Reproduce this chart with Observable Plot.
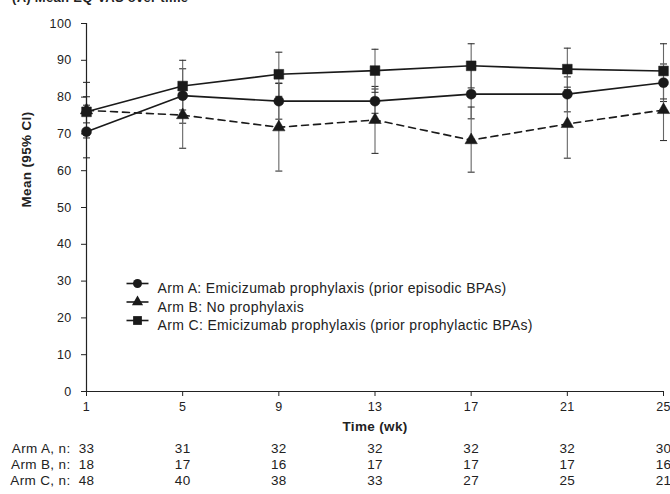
<!DOCTYPE html>
<html>
<head>
<meta charset="utf-8">
<script src="https://cdn.jsdelivr.net/npm/d3@7"></script>
<script src="https://cdn.jsdelivr.net/npm/@observablehq/plot@0.6"></script>
<style>
  html, body { margin: 0; padding: 0; background: #fff; overflow: hidden; }
  #wrap { position: relative; width: 670px; height: 494px; }
  #title { position: absolute; left: 12px; top: -10px; font: bold 13px "Liberation Sans", Arial, sans-serif; letter-spacing: 0.3px; color: #222; white-space: nowrap; z-index: 2; }
  #chart { position: absolute; left: 0; top: 0; }
  #chart svg text { letter-spacing: 0.35px; }
</style>
</head>
<body>
<div id="wrap">
  <div id="title">(A) Mean EQ-VAS over time</div>
  <div id="chart"></div>
</div>
<script>
const weeks = [1, 5, 9, 13, 17, 21, 25];
const yTicks = [0, 10, 20, 30, 40, 50, 60, 70, 80, 90, 100];

const armA = [70.6, 80.4, 78.9, 78.9, 80.8, 80.8, 83.9];
const armALo = [63.5, 72.9, 74.0, 75.6, 74.1, 76.0, 78.8];
const armAHi = [77.8, 87.7, 83.8, 82.2, 87.5, 85.5, 89.0];

const armB = [76.4, 75.1, 71.8, 73.8, 68.3, 72.7, 76.5];
const armBLo = [68.9, 66.1, 59.9, 64.7, 59.6, 63.4, 68.2];
const armBHi = [84.0, 83.5, 83.7, 82.9, 77.3, 82.0, 84.8];

const armC = [76.0, 83.0, 86.2, 87.2, 88.5, 87.6, 87.1];
const armCLo = [73.0, 76.5, 80.2, 81.3, 82.5, 82.7, 79.5];
const armCHi = [80.1, 90.0, 92.2, 93.0, 94.5, 93.3, 94.5];

const nA = [33, 31, 32, 32, 32, 32, 30];
const nB = [18, 17, 16, 17, 17, 17, 16];
const nC = [48, 40, 38, 33, 27, 25, 21];

const seriesNames = [
  "Arm A: Emicizumab prophylaxis (prior episodic BPAs)",
  "Arm B: No prophylaxis",
  "Arm C: Emicizumab prophylaxis (prior prophylactic BPAs)"
];
const rowLabels = ["Arm A, n:", "Arm B, n:", "Arm C, n:"];

const series = [
  {mean: armA, lo: armALo, hi: armAHi, n: nA, symbol: "circle", r: 5, dash: null},
  {mean: armB, lo: armBLo, hi: armBHi, n: nB, symbol: "triangle", r: 4.6, dash: "7,5"},
  {mean: armC, lo: armCLo, hi: armCHi, n: nC, symbol: "square", r: 5.5, dash: null}
];

const rows = series.map((s, si) => weeks.map((w, i) => ({
  week: w, mean: s.mean[i], lo: s.lo[i], hi: s.hi[i], n: s.n[i], arm: si
})));

const capSymbol = {
  draw(context, size) {
    context.moveTo(-3.5, 0);
    context.lineTo(3.5, 0);
  }
};
const legendLine = {
  draw(context, size) {
    context.moveTo(-11, 0);
    context.lineTo(11, 0);
  }
};

const font = '"Liberation Sans", Arial, sans-serif';
const marks = [];

// error bars
rows.forEach(r => {
  marks.push(Plot.ruleX(r, {x: "week", y1: "lo", y2: "hi", stroke: "#666", strokeWidth: 1.1}));
  marks.push(Plot.dot(r, {x: "week", y: "lo", symbol: capSymbol, stroke: "#333", strokeWidth: 1.1}));
  marks.push(Plot.dot(r, {x: "week", y: "hi", symbol: capSymbol, stroke: "#333", strokeWidth: 1.1}));
});

// axes
marks.push(Plot.axisY(yTicks, {tickSize: 5, tickPadding: 10, fontSize: 12.5, label: null, stroke: "#222", fill: "#222"}));
marks.push(Plot.axisX(weeks, {tickSize: 5, tickPadding: 6, fontSize: 12.5, label: null, stroke: "#222", fill: "#222"}));
marks.push(Plot.ruleX([weeks[0]], {y1: yTicks[0], y2: yTicks[yTicks.length - 1], stroke: "#222", strokeWidth: 1.2}));
marks.push(Plot.ruleY([yTicks[0]], {stroke: "#222", strokeWidth: 1.2}));

// lines
rows.forEach((r, si) => {
  marks.push(Plot.line(r, {x: "week", y: "mean", stroke: "#1a1a1a", strokeWidth: 1.6, strokeDasharray: series[si].dash}));
});
// markers
rows.forEach((r, si) => {
  marks.push(Plot.dot(r, {x: "week", y: "mean", symbol: series[si].symbol, r: series[si].r, fill: "#1a1a1a", stroke: "#1a1a1a", strokeWidth: 0.5}));
});

// axis titles
marks.push(Plot.text(["Mean (95% CI)"], {frameAnchor: "left", dx: -60, rotate: -90, fontWeight: "bold", fontSize: 13.5, fill: "#222"}));
marks.push(Plot.text(["Time (wk)"], {frameAnchor: "bottom", dy: 39, fontWeight: "bold", fontSize: 13.5, fill: "#222"}));

// legend
seriesNames.forEach((name, i) => {
  const dy = 260 + i * 18.5;
  marks.push(Plot.dot([name], {frameAnchor: "top-left", dx: 51, dy, symbol: legendLine, stroke: "#1a1a1a", strokeWidth: 1.6}));
  marks.push(Plot.dot([name], {frameAnchor: "top-left", dx: 51, dy, symbol: series[i].symbol, r: series[i].r * 0.9, fill: "#1a1a1a"}));
  marks.push(Plot.text([name], {frameAnchor: "top-left", dx: 71, dy, textAnchor: "start", fontSize: 14, fill: "#222"}));
});

// table of n
rowLabels.forEach((lab, i) => {
  const dy = 61 + i * 16;
  marks.push(Plot.text([lab], {frameAnchor: "bottom-left", dx: -16, dy, textAnchor: "end", fontSize: 13.5, fill: "#222"}));
  marks.push(Plot.text(rows[i], {x: "week", frameAnchor: "bottom", dy, text: "n", fontSize: 13.5, fill: "#222"}));
});

const chart = Plot.plot({
  width: 670,
  height: 494,
  marginLeft: 86,
  marginRight: 7,
  marginTop: 23,
  marginBottom: 103,
  style: {fontFamily: font, fontSize: "13px", color: "#222", background: "white", overflow: "visible"},
  x: {type: "linear", domain: [weeks[0], weeks[weeks.length - 1]]},
  y: {domain: [yTicks[0], yTicks[yTicks.length - 1]]},
  marks
});
document.getElementById("chart").appendChild(chart);
</script>
</body>
</html>
